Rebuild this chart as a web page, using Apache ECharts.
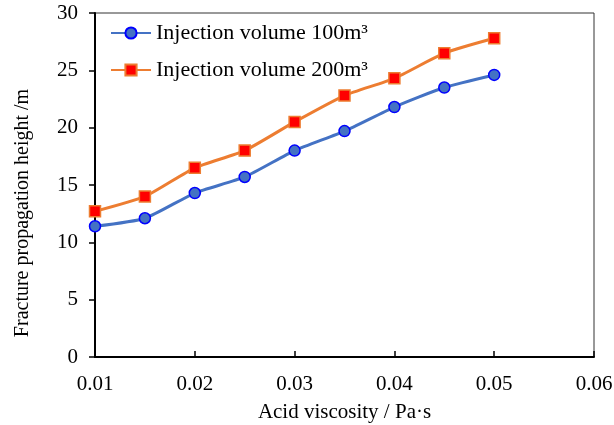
<!DOCTYPE html>
<html>
<head>
<meta charset="utf-8">
<script src="https://cdn.jsdelivr.net/npm/echarts@6/dist/echarts.min.js"></script>
<style>
html, body { margin: 0; padding: 0; background: #fff; }
#chart { width: 614px; height: 425px; }
</style>
</head>
<body>
<div id="chart"></div>
<script>
// acid viscosity (Pa·s)
const viscosity = [0.01, 0.015, 0.02, 0.025, 0.03, 0.035, 0.04, 0.045, 0.05];
const height100 = [11.4, 12.1, 14.3, 15.7, 18.0, 19.7, 21.8, 23.5, 24.6];
const height200 = [12.7, 14.0, 16.5, 18.0, 20.5, 22.8, 24.3, 26.5, 27.8];

const font = 'Liberation Serif, Times New Roman, serif';

let chart = echarts.init(document.getElementById('chart'));

let option = {
    animation: false,
    textStyle: { fontFamily: font },
    grid: { left: 95, right: 20, top: 13, bottom: 68, outerBoundsMode: 'none', containLabel: false },
    legend: {
        orient: 'vertical',
        left: 105,
        top: 17,
        itemGap: 15,
        itemWidth: 40,
        itemHeight: 14,
        textStyle: { fontFamily: font, fontSize: 22, color: '#000' },
        data: ['Injection volume 100m³', 'Injection volume 200m³']
    },
    xAxis: {
        type: 'value',
        min: 0.01,
        max: 0.06,
        interval: 0.01,
        name: 'Acid viscosity / Pa·s',
        nameLocation: 'middle',
        nameGap: 45,
        nameTextStyle: { fontFamily: font, fontSize: 21, color: '#000' },
        axisLine: { show: true, lineStyle: { color: '#000', width: 2 } },
        axisTick: { show: true, inside: true, length: 6, lineStyle: { color: '#000', width: 1.5 } },
        axisLabel: {
            fontFamily: font, fontSize: 21, color: '#000', margin: 17,
            formatter: v => v.toFixed(2)
        },
        splitLine: { show: false }
    },
    yAxis: {
        type: 'value',
        min: 0,
        max: 30,
        interval: 5,
        name: 'Fracture propagation height /m',
        nameLocation: 'middle',
        nameGap: 62,
        nameTextStyle: { fontFamily: font, fontSize: 20, color: '#000', padding: [0, 56, 0, 0] },
        axisLine: { show: true, lineStyle: { color: '#000', width: 2 } },
        axisTick: { show: true, inside: false, length: 6, lineStyle: { color: '#000', width: 1.5 } },
        axisLabel: { fontFamily: font, fontSize: 21, color: '#000', margin: 17 },
        splitLine: { show: false }
    },
    series: [
        {
            name: 'Injection volume 100m³',
            type: 'line',
            smooth: 0.2,
            data: viscosity.map((x, i) => [x, height100[i]]),
            symbol: 'circle',
            symbolSize: 11,
            lineStyle: { color: '#4472C4', width: 3 },
            itemStyle: { color: '#4472C4', borderColor: '#0000FF', borderWidth: 1.5 },
            z: 3
        },
        {
            name: 'Injection volume 200m³',
            type: 'line',
            smooth: 0.2,
            data: viscosity.map((x, i) => [x, height200[i]]),
            symbol: 'rect',
            symbolSize: 11,
            lineStyle: { color: '#ED7D31', width: 3 },
            itemStyle: { color: '#FF0000', borderColor: '#ED7D31', borderWidth: 1.5 },
            z: 2
        }
    ],
    graphic: [
        // thin frame on the top and right of the plot area
        {
            type: 'polyline',
            shape: { points: [[95, 13], [594, 13], [594, 357]] },
            style: { stroke: '#333', lineWidth: 1, fill: null },
            silent: true
        }
    ]
};

chart.setOption(option);
</script>
</body>
</html>
